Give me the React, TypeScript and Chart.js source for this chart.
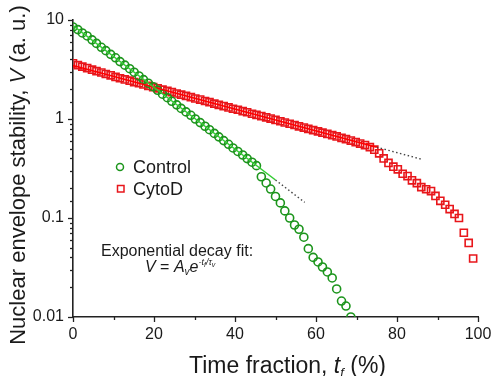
import React, { useEffect, useRef } from "react";
import { Chart, registerables } from "chart.js";

Chart.register(...registerables);

// ---- data ----
const timeFraction: number[] = [
  0, 1.2, 2.3, 3.5, 4.7, 5.8, 7.0, 8.1, 9.3, 10.5, 11.6, 12.8, 14.0, 15.1, 16.3, 17.4, 18.6, 19.8, 20.9, 22.1,
  23.3, 24.4, 25.6, 26.7, 27.9, 29.1, 30.2, 31.4, 32.6, 33.7, 34.9, 36.0, 37.2, 38.4, 39.5, 40.7, 41.9, 43.0, 44.2, 45.3,
  46.5, 47.7, 48.8, 50.0, 51.2, 52.3, 53.5, 54.7, 55.8, 57.0, 58.1, 59.3, 60.5, 61.6, 62.8, 64.0, 65.1, 66.3, 67.4, 68.6,
  69.8, 70.9, 72.1, 73.3, 74.4, 75.6, 76.7, 77.9, 79.1, 80.2, 81.4, 82.6, 83.7, 84.9, 86.0, 87.2, 88.4, 89.5, 90.7, 91.9,
  93.0, 94.2, 95.3, 96.5, 97.7, 98.8,
];

const controlV: number[] = [
  8.5, 8.0, 7.4, 6.9, 6.3, 5.8, 5.3, 4.9, 4.5, 4.15,
  3.8, 3.5, 3.22, 2.97, 2.72, 2.5, 2.3, 2.12, 1.95, 1.78,
  1.64, 1.51, 1.39, 1.28, 1.18, 1.09, 1.0, 0.92, 0.845, 0.78,
  0.715, 0.66, 0.605, 0.555, 0.51, 0.47, 0.433, 0.398, 0.366, 0.338,
  0.261, 0.226, 0.196, 0.165, 0.142, 0.118, 0.1, 0.085, 0.077, 0.064,
  0.049, 0.04, 0.036, 0.032, 0.0285, 0.0248, 0.0192, 0.0145, 0.0129, 0.01,
];

const cytoDV: number[] = [
  3.65, 3.5, 3.38, 3.27, 3.15, 3.04, 2.95, 2.85, 2.76, 2.66,
  2.58, 2.51, 2.44, 2.36, 2.3, 2.23, 2.16, 2.1, 2.04, 1.98,
  1.92, 1.87, 1.81, 1.76, 1.71, 1.66, 1.61, 1.57, 1.52, 1.48,
  1.43, 1.39, 1.35, 1.31, 1.27, 1.24, 1.2, 1.17, 1.13, 1.1,
  1.07, 1.04, 1.01, 0.978, 0.949, 0.921, 0.895, 0.869, 0.843, 0.819,
  0.795, 0.772, 0.75, 0.728, 0.707, 0.687, 0.667, 0.645, 0.625, 0.605,
  0.585, 0.565, 0.545, 0.52, 0.49, 0.45, 0.4, 0.36, 0.33, 0.31,
  0.28, 0.265, 0.24, 0.225, 0.205, 0.195, 0.187, 0.167, 0.149, 0.136,
  0.123, 0.11, 0.1, 0.071, 0.056, 0.039,
];

const controlFitX: number[] = [0, 50];
const controlFitV: number[] = [8.8, 0.242];
const controlExtX: number[] = [50, 57.2];
const controlExtV: number[] = [0.242, 0.144];
const cytoFitX: number[] = [0, 75];
const cytoFitV: number[] = [3.47, 0.519];
const cytoExtX: number[] = [75, 86];
const cytoExtV: number[] = [0.519, 0.393];

const xTickValues: number[] = [0, 10, 20, 30, 40, 50, 60, 70, 80, 90, 100];
const xLabelValues: number[] = [0, 20, 40, 60, 80, 100];
const yLabelValues: number[] = [0.01, 0.1, 1, 10];

const legendNames: string[] = ["Control", "CytoD"];
const fitTitle = "Exponential decay fit:";

// ---- styling ----
const FONT = '"Liberation Sans", Arial, Helvetica, sans-serif';
const TEXT = "#1a1a1a";
const AXIS = "#222222";
const GREEN = "#1c951c";
const GREEN_FIT = "#33cc33";
const RED = "#e8161b";
const RED_FIT = "#ff0000";

type Seg = { t: string; size: number; italic?: boolean; dy?: number };

function segFont(s: Seg) {
  return `${s.italic ? "italic " : ""}${s.size}px ${FONT}`;
}
function measureSegs(ctx: CanvasRenderingContext2D, segs: Seg[]) {
  let w = 0;
  for (const s of segs) {
    ctx.font = segFont(s);
    w += ctx.measureText(s.t).width;
  }
  return w;
}
function drawSegs(ctx: CanvasRenderingContext2D, segs: Seg[], x: number, y: number) {
  let cx = x;
  for (const s of segs) {
    ctx.font = segFont(s);
    ctx.fillText(s.t, cx, y + (s.dy || 0));
    cx += ctx.measureText(s.t).width;
  }
}

const isPow10 = (v: number) => Math.abs(Math.log10(v) - Math.round(Math.log10(v))) < 1e-6;

const decorPlugin = {
  id: "decor",
  afterDraw(chart: any) {
    const ctx: CanvasRenderingContext2D = chart.ctx;
    const { left, bottom } = chart.chartArea;
    const xs = chart.scales.x;
    const ys = chart.scales.y;
    ctx.save();
    // tick marks
    ctx.strokeStyle = AXIS;
    ctx.lineWidth = 1.3;
    for (const t of ys.ticks) {
      const v = t.value;
      if (v < 0.01 - 1e-9 || v > 10 + 1e-9) continue;
      const py = Math.round(ys.getPixelForValue(v)) + 0.5;
      const len = isPow10(v) ? 5 : 3;
      ctx.beginPath();
      ctx.moveTo(left - len, py);
      ctx.lineTo(left, py);
      ctx.stroke();
    }
    for (const v of xTickValues) {
      const px = Math.round(xs.getPixelForValue(v)) + 0.5;
      const len = xLabelValues.includes(v) ? 5 : 3;
      ctx.beginPath();
      ctx.moveTo(px, bottom);
      ctx.lineTo(px, bottom + len);
      ctx.stroke();
    }

    ctx.fillStyle = TEXT;
    ctx.textBaseline = "alphabetic";
    ctx.textAlign = "left";

    // x title
    const xt: Seg[] = [
      { t: "Time fraction, ", size: 23 },
      { t: "t", size: 23, italic: true },
      { t: "f", size: 13, italic: true, dy: 4 },
      { t: " (%)", size: 23 },
    ];
    drawSegs(ctx, xt, 189, 373);

    // y title
    const yt: Seg[] = [
      { t: "Nuclear envelope stability, ", size: 22 },
      { t: "V", size: 22, italic: true },
      { t: " (a. u.)", size: 22 },
    ];
    const yw = measureSegs(ctx, yt);
    ctx.save();
    ctx.translate(25, 175);
    ctx.rotate(-Math.PI / 2);
    drawSegs(ctx, yt, -yw / 2, 0);
    ctx.restore();

    // legend
    ctx.lineWidth = 1.5;
    ctx.strokeStyle = GREEN;
    ctx.beginPath();
    ctx.arc(120, 167, 3.5, 0, Math.PI * 2);
    ctx.stroke();
    ctx.strokeStyle = RED;
    ctx.strokeRect(117.5, 185.5, 6.5, 6.5);
    ctx.fillStyle = TEXT;
    ctx.font = `18px ${FONT}`;
    ctx.fillText(legendNames[0], 133, 173);
    ctx.fillText(legendNames[1], 133, 195);

    // fit annotation
    ctx.font = `16px ${FONT}`;
    ctx.fillText(fitTitle, 101, 256);
    const f: Seg[] = [
      { t: "V", size: 16, italic: true },
      { t: " = ", size: 16 },
      { t: "A", size: 16, italic: true },
      { t: "v", size: 10, italic: true, dy: 3 },
      { t: "e", size: 16, italic: true },
      { t: "-t", size: 9, italic: true, dy: -7 },
      { t: "f", size: 7, italic: true, dy: -5 },
      { t: "/τ", size: 9, italic: true, dy: -7 },
      { t: "v", size: 7, italic: true, dy: -5 },
    ];
    drawSegs(ctx, f, 145, 272);
    ctx.restore();
  },
};

export default function App() {
  const ref = useRef<HTMLCanvasElement | null>(null);
  useEffect(() => {
    if (!ref.current) return;
    const pts = (xs: number[], vs: number[]) => vs.map((v, i) => ({ x: xs[i], y: v }));
    const chart = new Chart(ref.current, {
      type: "scatter",
      data: {
        datasets: [
          {
            data: pts(controlFitX, controlFitV),
            showLine: true,
            borderColor: GREEN_FIT,
            borderWidth: 1.5,
            pointRadius: 0,
            order: 0,
          },
          {
            data: pts(controlExtX, controlExtV),
            showLine: true,
            borderColor: "#444444",
            borderWidth: 1.4,
            borderDash: [1.5, 2.5],
            pointRadius: 0,
            order: 0,
          },
          {
            data: pts(cytoFitX, cytoFitV),
            showLine: true,
            borderColor: RED_FIT,
            borderWidth: 1.5,
            pointRadius: 0,
            order: 0,
          },
          {
            data: pts(cytoExtX, cytoExtV),
            showLine: true,
            borderColor: "#444444",
            borderWidth: 1.4,
            borderDash: [1.5, 2.5],
            pointRadius: 0,
            order: 0,
          },
          {
            label: legendNames[0],
            data: pts(timeFraction, controlV),
            pointStyle: "circle",
            pointRadius: 4,
            pointBorderWidth: 1.6,
            borderColor: GREEN,
            backgroundColor: "rgba(0,0,0,0)",
            order: 1,
          },
          {
            label: legendNames[1],
            data: pts(timeFraction, cytoDV),
            pointStyle: "rect",
            pointRadius: 5,
            pointBorderWidth: 1.6,
            borderColor: RED,
            backgroundColor: "rgba(0,0,0,0)",
            order: 1,
          },
        ],
      },
      options: {
        animation: false,
        responsive: false,
        maintainAspectRatio: false,
        events: [],
        layout: { padding: { left: 0, right: 15, top: 20, bottom: 0 } },
        plugins: { legend: { display: false }, tooltip: { enabled: false }, title: { display: false } },
        scales: {
          x: {
            type: "linear",
            min: 0,
            max: 100,
            grid: { display: false, drawTicks: false },
            border: { display: true, color: AXIS, width: 1.6 },
            ticks: {
              stepSize: 10,
              autoSkip: false,
              maxRotation: 0,
              padding: 8,
              color: TEXT,
              font: { family: FONT, size: 16 },
              callback: (v: any) => (xLabelValues.includes(Number(v)) ? String(v) : ""),
            },
            afterFit: (s: any) => {
              s.height = 59;
              s.paddingLeft = 0;
              s.paddingRight = 0;
            },
          },
          y: {
            type: "logarithmic",
            min: 0.01,
            max: 10,
            grid: { display: false, drawTicks: false },
            border: { display: true, color: AXIS, width: 1.6 },
            ticks: {
              autoSkip: false,
              padding: 9,
              color: TEXT,
              font: { family: FONT, size: 16 },
              callback: (v: any) => {
                const n = Number(v);
                const hit = yLabelValues.find((t) => Math.abs(t - n) / t < 1e-6);
                return hit !== undefined ? String(hit) : "";
              },
            },
            afterFit: (s: any) => {
              s.width = 73;
              s.paddingTop = 0;
              s.paddingBottom = 0;
            },
          },
        },
      },
      plugins: [decorPlugin],
    } as any);
    return () => chart.destroy();
  }, []);
  return (
    <div style={{ position: "absolute", left: 0, top: 0, width: 493, height: 376, background: "#fff" }}>
      <canvas ref={ref} width={493} height={376} style={{ width: 493, height: 376, display: "block" }} />
    </div>
  );
}
